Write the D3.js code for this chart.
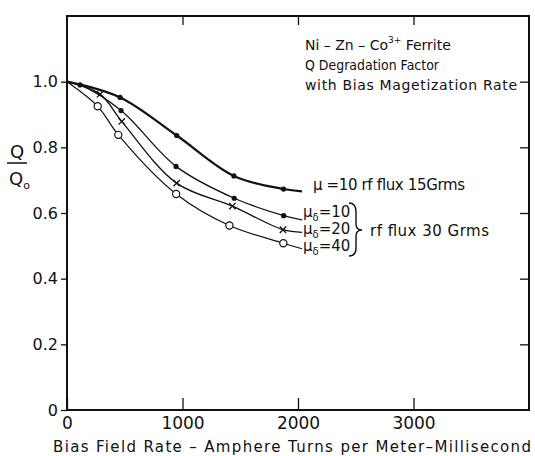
<!DOCTYPE html>
<html>
<head>
<meta charset="utf-8">
<script src="https://cdn.jsdelivr.net/npm/d3@7"></script>
<style>
  body { margin: 0; background: #fff; }
  text { font-family: "DejaVu Sans", sans-serif; fill: #111; }
</style>
</head>
<body>
<svg width="535" height="456"></svg>
<script>
// ---- values ----
const xTicks = [0, 1000, 2000, 3000];
const yTicks = [0, 0.2, 0.4, 0.6, 0.8, 1.0];

// mu = 10, rf flux 15 Grms (filled dots)
const rate15 = [0, 460, 950, 1445, 1875, 2035];
const q15    = [1.0, 0.952, 0.836, 0.713, 0.673, 0.666];

// rf flux 30 Grms
const rate10 = [0, 113, 468, 944, 1448, 1876, 2035];
const q10    = [1.0, 0.99, 0.912, 0.742, 0.645, 0.592, 0.579];

const rate20 = [0, 286, 474, 949, 1432, 1870, 2035];
const q20    = [1.0, 0.962, 0.879, 0.691, 0.621, 0.549, 0.541];

const rate40 = [0, 266, 444, 945, 1406, 1873, 2035];
const q40    = [1.0, 0.925, 0.838, 0.658, 0.562, 0.508, 0.491];

// ---- layout ----
let svg = d3.select("svg"),
    x = d3.scaleLinear().domain([0, 4000]).range([67, 529]),
    y = d3.scaleLinear().domain([0, 1.2]).range([410, 16]);

const ink = "#111";

// series built from the arrays (first/last points are curve ends, no marker)
const series = [
  {xs: rate15, ys: q15, mark: "dot",    w: 2.2},
  {xs: rate10, ys: q10, mark: "dot",    w: 1.3},
  {xs: rate20, ys: q20, mark: "x",      w: 1.3},
  {xs: rate40, ys: q40, mark: "circle", w: 1.2}
].map(s => ({...s, pts: s.xs.map((v, i) => [v, s.ys[i]])}));

// ---- frame ----
svg.append("rect")
  .attr("x", x(0)).attr("y", y(1.2))
  .attr("width", x(4000) - x(0)).attr("height", y(0) - y(1.2))
  .attr("fill", "none").attr("stroke", ink).attr("stroke-width", 2);

// ---- axes ----
let yAxis = svg.append("g")
  .attr("transform", "translate(" + x(0) + ",0)")
  .call(d3.axisLeft(y).tickValues(yTicks).tickSize(6).tickPadding(3)
    .tickFormat(d => d === 0 ? "0" : d3.format(".1f")(d)));

svg.append("g")
  .attr("transform", "translate(" + x(4000) + ",0)")
  .call(d3.axisRight(y).tickValues(yTicks.slice(1)).tickSize(-9).tickFormat(""));

svg.append("g")
  .attr("transform", "translate(0," + y(1.2) + ")")
  .call(d3.axisTop(x).tickValues(xTicks.slice(1)).tickSize(-9).tickFormat(""));

let xAxis = svg.append("g")
  .attr("transform", "translate(0," + y(0) + ")")
  .call(d3.axisBottom(x).tickValues(xTicks).tickSizeInner(-12).tickSizeOuter(0).tickPadding(7)
    .tickFormat(d3.format("d")));

svg.selectAll(".domain").remove();
svg.selectAll(".tick line").attr("stroke", ink).attr("stroke-width", 1.3);
yAxis.selectAll("text").style("font-size", "16px").attr("font-family", null);
xAxis.selectAll("text").style("font-size", "17px").attr("font-family", null);

// ---- curves ----
let line = d3.line()
  .x(d => x(d[0])).y(d => y(d[1]))
  .curve(d3.curveCatmullRom.alpha(0.5));

svg.selectAll(".curve")
  .data(series)
  .enter().append("path")
  .attr("class", "curve")
  .attr("d", d => line(d.pts))
  .attr("fill", "none")
  .attr("stroke", ink)
  .attr("stroke-width", d => d.w);

// ---- markers ----
series.forEach(s => {
  let inner = s.pts.slice(1, -1);
  let g = svg.append("g");
  if (s.mark === "dot") {
    g.selectAll("circle").data(inner).enter().append("circle")
      .attr("cx", d => x(d[0])).attr("cy", d => y(d[1])).attr("r", 2.6)
      .attr("fill", ink);
  } else if (s.mark === "circle") {
    g.selectAll("circle").data(inner).enter().append("circle")
      .attr("cx", d => x(d[0])).attr("cy", d => y(d[1])).attr("r", 3.6)
      .attr("fill", "#fff").attr("stroke", ink).attr("stroke-width", 1.2);
  } else {
    g.selectAll("path").data(inner).enter().append("path")
      .attr("d", d => {
        let cx = x(d[0]), cy = y(d[1]), r = 3.2;
        return "M" + (cx - r) + "," + (cy - r) + "L" + (cx + r) + "," + (cy + r) +
               "M" + (cx - r) + "," + (cy + r) + "L" + (cx + r) + "," + (cy - r);
      })
      .attr("stroke", ink).attr("stroke-width", 1.3);
  }
});

// ---- title block ----
let t1 = svg.append("text").attr("x", 305).attr("y", 50).style("font-size", "14px");
t1.append("tspan").text("Ni \u2013 Zn \u2013 Co");
t1.append("tspan").attr("dy", -7).style("font-size", "9px").text("3+");
t1.append("tspan").attr("dy", 7).text("  Ferrite");

svg.append("text").attr("x", 305).attr("y", 70).style("font-size", "14px")
  .attr("textLength", 134).attr("lengthAdjust", "spacingAndGlyphs")
  .text("Q  Degradation Factor");
svg.append("text").attr("x", 305).attr("y", 90).style("font-size", "14px")
  .attr("textLength", 212).text("with Bias Magetization Rate");

// ---- y label Q / Qo ----
svg.append("text").attr("x", 17).attr("y", 158).attr("text-anchor", "middle")
  .style("font-size", "18px").text("Q");
svg.append("line").attr("x1", 7).attr("x2", 27).attr("y1", 163).attr("y2", 163)
  .attr("stroke", ink).attr("stroke-width", 1.5);
let qo = svg.append("text").attr("x", 9).attr("y", 185).style("font-size", "18px");
qo.append("tspan").text("Q");
qo.append("tspan").attr("dy", 4).style("font-size", "11px").text("o");

// ---- x label ----
svg.append("text").attr("x", 53).attr("y", 452).style("font-size", "15px")
  .attr("textLength", 478)
  .text("Bias Field Rate \u2013 Amphere  Turns per Meter\u2013Millisecond");

// ---- curve labels ----
svg.append("text").attr("x", 313).attr("y", 190).style("font-size", "15px")
  .attr("textLength", 152).text("\u03bc =10 rf  flux  15Grms");

[["10", 217], ["20", 234], ["40", 251]].forEach(([v, yy]) => {
  let t = svg.append("text").attr("x", 303).attr("y", yy).style("font-size", "15px");
  t.append("tspan").text("\u03bc");
  t.append("tspan").attr("dy", 4).style("font-size", "10px").text("\u03b4");
  t.append("tspan").attr("dy", -4).text("=" + v);
});

svg.append("path")
  .attr("d", "M349,203 Q356,203 356,212 L356,224 Q356,230 362,230 Q356,230 356,236 L356,248 Q356,256 349,256")
  .attr("fill", "none").attr("stroke", ink).attr("stroke-width", 1.4);

svg.append("text").attr("x", 370).attr("y", 236).style("font-size", "15px")
  .attr("textLength", 119).text("rf  flux  30 Grms");
</script>
</body>
</html>
